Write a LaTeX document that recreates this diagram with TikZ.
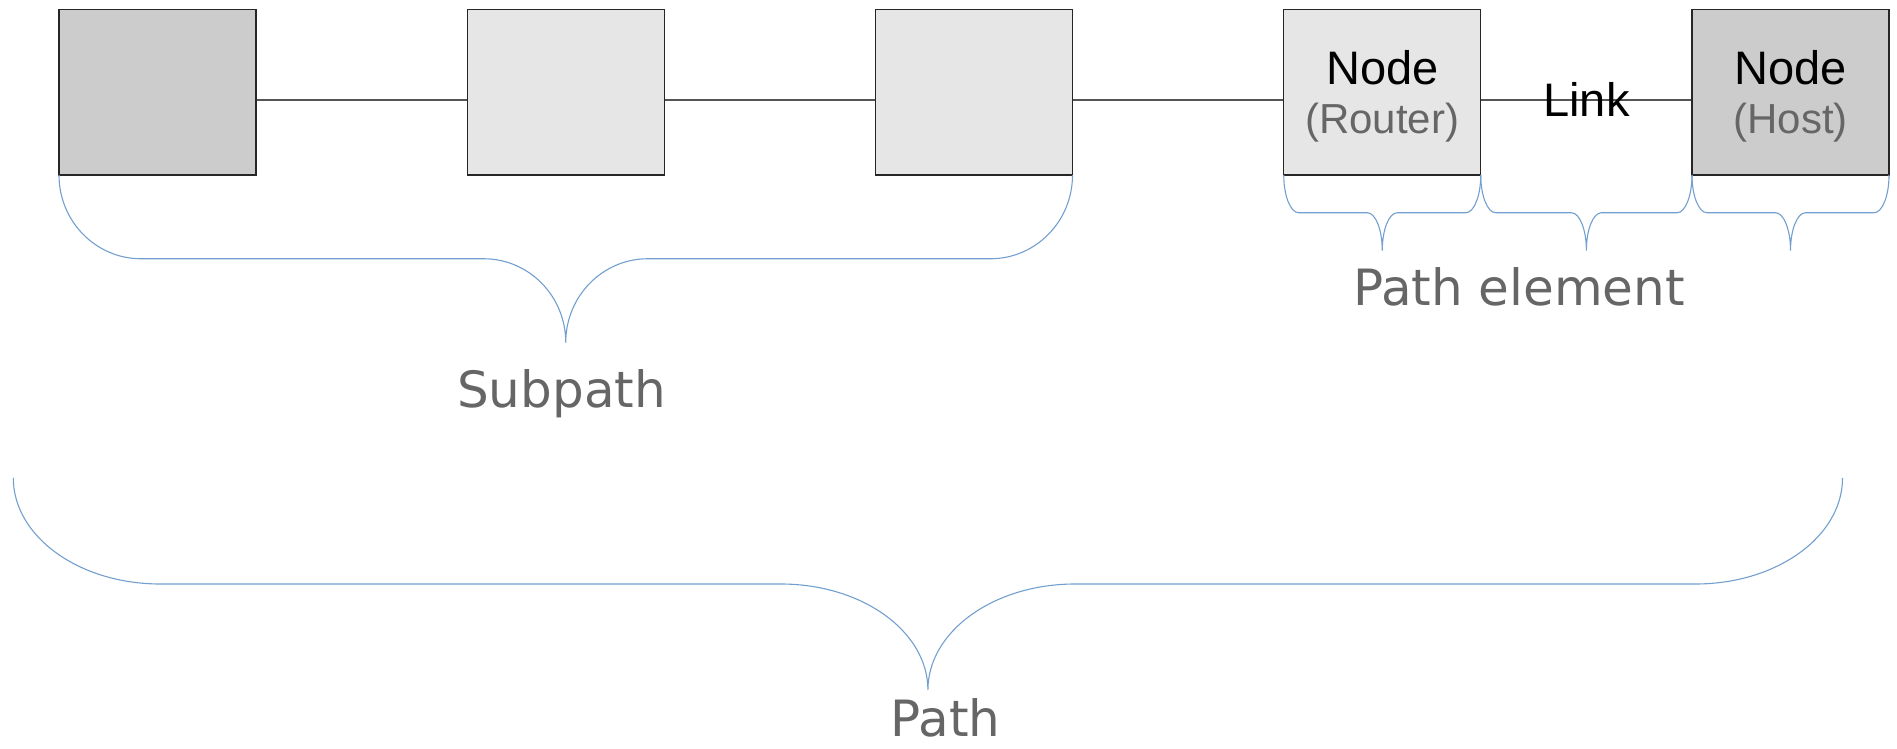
\documentclass[tikz,border=0pt]{standalone}
\usepackage{fontspec}
\setmainfont{Liberation Sans}
\newfontfamily\dejavu{DejaVu Sans}
\definecolor{hostgray}{HTML}{CCCCCC}
\definecolor{routergray}{HTML}{E6E6E6}
\definecolor{wiregray}{HTML}{555555}
\definecolor{labelgray}{HTML}{666666}
\definecolor{braceblue}{HTML}{729FCF}
\newcommand\drawbrace[5]{%
  \pgfmathsetmacro\bxm{(#1+#2)/2}%
  \pgfmathsetmacro\bym{(#3+#4)/2}%
  \pgfmathsetmacro\bry{(#4-#3)/2}%
  \pgfmathsetmacro\bk{0.5523}%
  \draw[bracestyle] (#1,#3) .. controls (#1,{#3+\bk*\bry}) and ({#1+#5-\bk*#5},\bym) .. ({#1+#5},\bym)
    -- ({\bxm-#5},\bym) .. controls ({\bxm-#5+\bk*#5},\bym) and (\bxm,{#4-\bk*\bry}) .. (\bxm,#4)
    .. controls (\bxm,{#4-\bk*\bry}) and ({\bxm+#5-\bk*#5},\bym) .. ({\bxm+#5},\bym)
    -- ({#2-#5},\bym) .. controls ({#2-#5+\bk*#5},\bym) and (#2,{#3+\bk*\bry}) .. (#2,#3);}
\begin{document}
\begin{tikzpicture}[x=1pt,y=-1pt,
  box/.style={draw=black!85, line width=1.2pt, minimum width=197pt, minimum height=165.7pt, inner sep=0pt, anchor=center},
  hostbox/.style={box, fill=hostgray},
  routerbox/.style={box, fill=routergray},
  wire/.style={draw=wiregray, line width=1.3pt},
  bracestyle/.style={draw=braceblue, line width=1.1pt},
  lbl/.style={font=\dejavu\fontsize{50}{60}\selectfont, text=labelgray, inner sep=0pt, anchor=base},
  nodetxt/.style={font=\fontsize{47}{56}\selectfont, text=black, inner sep=0pt, anchor=base},
  subtxt/.style={font=\fontsize{42}{50}\selectfont, text=labelgray, inner sep=0pt, anchor=base}]
\useasboundingbox (0,0) rectangle (1897,749);
% boxes
\node[hostbox]   (b1) at (157.5,92.15) {};
\node[routerbox] (b2) at (565.75,92.15) {};
\node[routerbox] (b3) at (974,92.15) {};
\node[routerbox] (b4) at (1382.25,92.15) {};
\node[hostbox]   (b5) at (1790.5,92.15) {};
% connectors
\draw[wire] ([yshift=-7.8pt]b1.east) -- ([yshift=-7.8pt]b2.west);
\draw[wire] ([yshift=-7.8pt]b2.east) -- ([yshift=-7.8pt]b3.west);
\draw[wire] ([yshift=-7.8pt]b3.east) -- ([yshift=-7.8pt]b4.west);
\draw[wire] ([yshift=-7.8pt]b4.east) -- ([yshift=-7.8pt]b5.west);
% texts in boxes
\node[nodetxt] (n4) at (1382.25,85) {Node};
\node[subtxt]  (r4) at (1382.25,133) {(Router)};
\node[nodetxt] (n5) at (1790.5,85) {Node};
\node[subtxt]  (h5) at (1790.5,133) {(Host)};
\node[nodetxt] (lk) at (1586.5,117) {Link};
% braces
\drawbrace{1283.75}{1480.75}{175}{250.5}{15}
\drawbrace{1480.75}{1692}{175}{250.5}{15}
\drawbrace{1692}{1889}{175}{250.5}{15}
\drawbrace{59}{1072.5}{175}{342.5}{82}
\drawbrace{13.3}{1842.5}{478}{690}{147}
% labels
\node[lbl] (pe) at (1519,305) {Path element};
\node[lbl] (sp) at (561.5,407) {Subpath};
\node[lbl] (pa) at (945.5,736) {Path};
\end{tikzpicture}
\end{document}
